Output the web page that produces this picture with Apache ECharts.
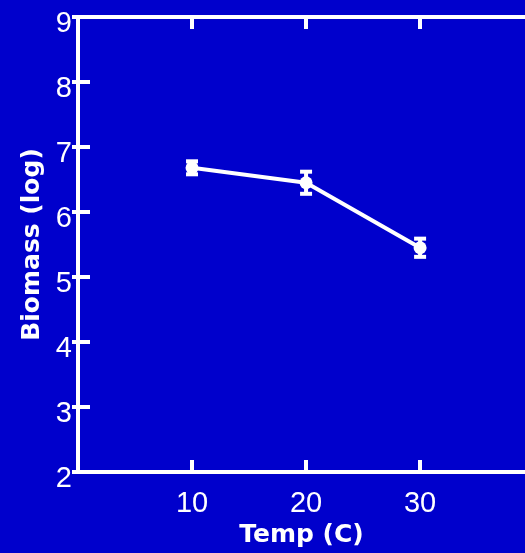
<!DOCTYPE html>
<html>
<head>
<meta charset="utf-8">
<style>html,body{margin:0;padding:0;background:#0000CC;}#c{width:525px;height:553px;}</style>
<script src="https://cdn.jsdelivr.net/npm/echarts@6/dist/echarts.min.js"></script>
</head>
<body>
<div id="c"></div>
<script>
const temps = [10, 20, 30];
const biomass = [6.68, 6.45, 5.45];
const errs = [0.1, 0.17, 0.14];
const xTicks = [10, 20, 30];
const yTicks = [2, 3, 4, 5, 6, 7, 8, 9];

const chart = echarts.init(document.getElementById('c'));
const white = '#ffffff';
const labelFont = {color: white, fontSize: 29, fontFamily: 'Liberation Sans, Arial, sans-serif'};
const nameFont = {color: white, fontSize: 25, fontWeight: 'bold', fontFamily: 'DejaVu Sans, sans-serif'};

const errData = temps.map((t, i) => [t, biomass[i] - errs[i], biomass[i] + errs[i]]);

chart.setOption({
  backgroundColor: '#0000CC',
  animation: false,
  grid: {left: 78, top: 17, right: 0, bottom: 81},
  xAxis: [{
    type: 'value', min: 0, max: 39.2, interval: 10,
    axisLine: {lineStyle: {color: white, width: 4}},
    axisTick: {inside: true, length: 12, customValues: xTicks, lineStyle: {color: white, width: 4}},
    splitLine: {show: false},
    axisLabel: Object.assign({margin: 17, customValues: xTicks, formatter: v => String(v)}, labelFont),
    name: 'Temp (C)', nameLocation: 'middle', nameGap: 50, nameTextStyle: nameFont
  }, {
    type: 'value', position: 'top', min: 0, max: 39.2, interval: 10,
    axisLine: {show: true, lineStyle: {color: white, width: 4}},
    axisTick: {show: true, inside: true, length: 12, customValues: xTicks, lineStyle: {color: white, width: 4}},
    axisLabel: {show: false}, splitLine: {show: false}
  }],
  yAxis: [{
    type: 'value', min: 2, max: 9, interval: 1,
    axisLine: {show: true, lineStyle: {color: white, width: 4}},
    axisTick: {show: true, inside: true, length: 12, lineStyle: {color: white, width: 4}},
    splitLine: {show: false},
    axisLabel: Object.assign({margin: 6, verticalAlign: 'top', lineHeight: 13, formatter: v => yTicks.includes(v) ? String(v) : ''}, labelFont),
    name: 'Biomass (log)', nameLocation: 'middle', nameGap: 31, nameRotate: 90, nameTextStyle: nameFont
  }, {
    type: 'value', position: 'right', min: 2, max: 9, interval: 1,
    axisLine: {show: true, lineStyle: {color: 'rgba(0,0,0,0)', width: 1}},
    axisTick: {show: true, inside: true, length: 6, lineStyle: {color: white, width: 4}},
    axisLabel: {show: false}, splitLine: {show: false}
  }],
  series: [{
    type: 'line',
    data: temps.map((t, i) => [t, biomass[i]]),
    lineStyle: {color: white, width: 4},
    itemStyle: {color: white},
    symbol: 'circle', symbolSize: 13
  }, {
    type: 'custom',
    data: errData,
    renderItem: function (params, api) {
      const x = api.value(0);
      const lo = api.coord([x, api.value(1)]);
      const hi = api.coord([x, api.value(2)]);
      const w = 6;
      const st = {stroke: white, lineWidth: 4};
      return {type: 'group', children: [
        {type: 'line', shape: {x1: lo[0], y1: lo[1], x2: hi[0], y2: hi[1]}, style: st},
        {type: 'line', shape: {x1: lo[0] - w, y1: lo[1], x2: lo[0] + w, y2: lo[1]}, style: st},
        {type: 'line', shape: {x1: hi[0] - w, y1: hi[1], x2: hi[0] + w, y2: hi[1]}, style: st}
      ]};
    },
    z: 3
  }]
});
</script>
</body>
</html>
